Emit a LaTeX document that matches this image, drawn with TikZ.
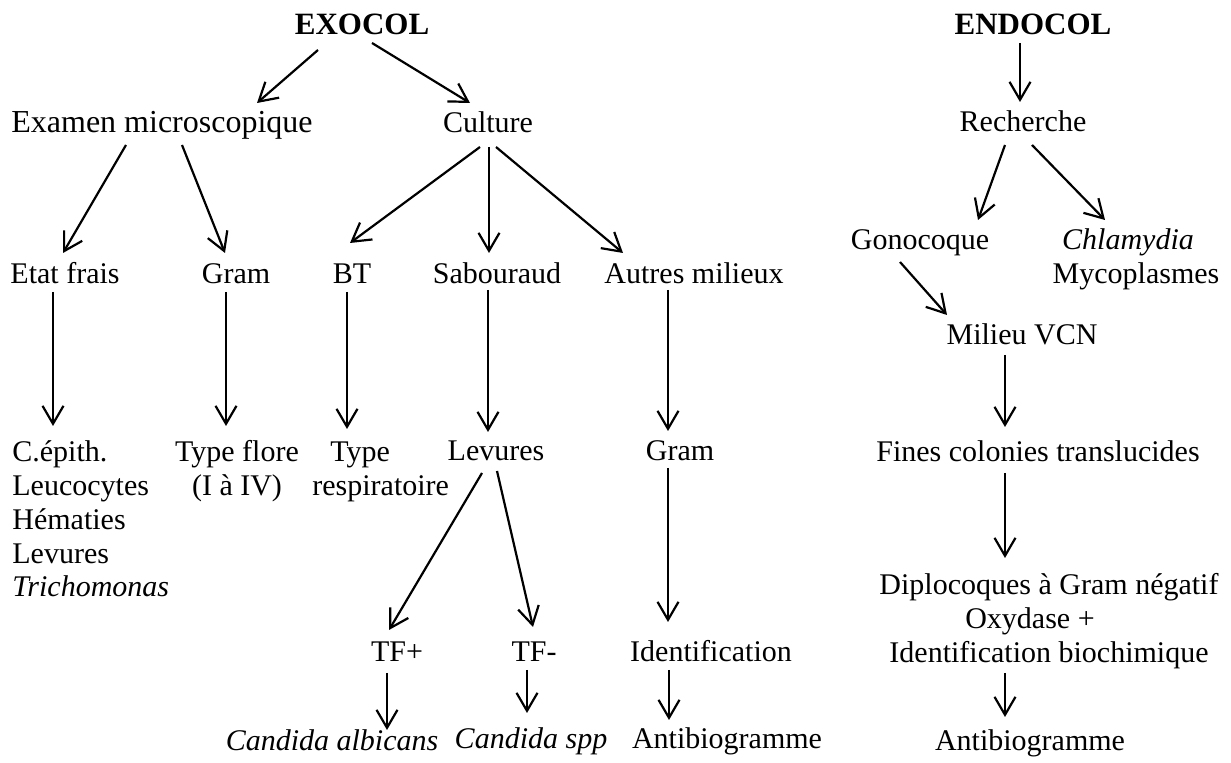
\documentclass[tikz,border=0pt]{standalone}
\usepackage{fontspec}
\setmainfont{Liberation Serif}
\usetikzlibrary{arrows.meta,calc}
% multi-line labels whose base is the first line's baseline
\newcommand{\stackc}[1]{\begin{tabular}[t]{@{}c@{}}#1\end{tabular}}
\newcommand{\stackl}[1]{\begin{tabular}[t]{@{}l@{}}#1\end{tabular}}

\begin{document}
\begin{tikzpicture}[x=0.5pt,y=-0.5pt,
  txt/.style={inner sep=0pt, anchor=base, font=\fontsize{15}{16.85}\selectfont},
  txtl/.style={txt, anchor=base west},
  head/.style={txt, font=\fontsize{15.5}{17}\selectfont\bfseries},
  arr/.style={-{Straight Barb[length=9pt,width=10.5pt]}, line width=1.1pt}]
\useasboundingbox (0,0) rectangle (1231,763);

% ---------- EXOCOL ----------
\node[head] (exo) at (362,35) {EXOCOL};
\node[txt, font=\fontsize{16}{18}\selectfont] (exam) at (162,133) {Examen microscopique};
\node[txt] (cult) at (488,133) {Culture};

\node[txt] (etat) at (65,284) {Etat frais};
\node[txt] (gram) at (236,284) {Gram};
\node[txt] (bt) at (352,284) {BT};
\node[txt] (sab) at (497,284) {Sabouraud};
\node[txt] (autres) at (694,284) {Autres milieux};

\node[txtl] (cep) at (12,462) {\stackl{C.épith.\\Leucocytes\\Hématies\\Levures\\\textit{Trichomonas}}};
\node[txt] (flore) at (237,462) {\stackc{Type flore\\(I à IV)}};
\node[txtl] (resp) at (312,462) {\stackl{\hspace*{9pt}Type\\respiratoire}};
\node[txt] (lev) at (496,461) {Levures};
\node[txt] (gram2) at (680,461) {Gram};

\node[txt] (tfp) at (397,662) {TF+};
\node[txt] (tfm) at (534,662) {TF-};
\node[txt] (ident) at (711,662) {Identification};

\node[txt] (calb) at (332,750) {\textit{Candida albicans}};
\node[txt] (cspp) at (531,748) {\textit{Candida spp}};
\node[txt] (anti1) at (727,748) {Antibiogramme};

\draw[arr] ([shift={(-44,15)}]exo.base) -- ([shift={(95,-30)}]exam.base);
\draw[arr] ([shift={(10,8)}]exo.base) -- ([shift={(-18,-30)}]cult.base);
\draw[arr] ([shift={(-36,12)}]exam.base) -- ([shift={(-2,-31)}]etat.base);
\draw[arr] ([shift={(20,12)}]exam.base) -- ([shift={(-11,-31)}]gram.base);
\draw[arr] ([shift={(-8,14)}]cult.base) -- ([shift={(-2,-41)}]bt.base);
\draw[arr] ([shift={(1,14)}]cult.base) -- ([shift={(-8,-31)}]sab.base);
\draw[arr] ([shift={(8,14)}]cult.base) -- ([shift={(-71,-31)}]autres.base);

\draw[arr] ([shift={(-12,8)}]etat.base) -- ([shift={(41,-36)}]cep.base west);
\draw[arr] ([shift={(-10,8)}]gram.base) -- ([shift={(-11,-36)}]flore.base);
\draw[arr] ([shift={(-5,8)}]bt.base) -- ([shift={(35,-33)}]resp.base west);
\draw[arr] ([shift={(-9,6)}]sab.base) -- ([shift={(-8,-29)}]lev.base);
\draw[arr] ([shift={(-26,6)}]autres.base) -- ([shift={(-12,-30)}]gram2.base);

\draw[arr] ([shift={(-14,12)}]lev.base) -- ([shift={(-8,-32)}]tfp.base);
\draw[arr] ([shift={(1,10)}]lev.base) -- ([shift={(-1,-35)}]tfm.base);
\draw[arr] ([shift={(-12,7)}]gram2.base) -- ([shift={(-43,-40)}]ident.base);

\draw[arr] ([shift={(-10,11)}]tfp.base) -- ([shift={(55,-20)}]calb.base);
\draw[arr] ([shift={(-7,8)}]tfm.base) -- ([shift={(-4,-35)}]cspp.base);
\draw[arr] ([shift={(-42,8)}]ident.base) -- ([shift={(-58,-28)}]anti1.base);

% ---------- ENDOCOL ----------
\node[head] (endo) at (1033,35) {ENDOCOL};
\node[txt] (rech) at (1023,132) {Recherche};
\node[txt] (gono) at (920,250) {Gonocoque};
\node[txt] (chla) at (1136,250) {\stackc{\textit{Chlamydia}\hspace*{8pt}\\Mycoplasmes}};
\node[txt] (milieu) at (1022,345) {Milieu VCN};
\node[txt] (fines) at (1038,462) {Fines colonies translucides};
\node[txt] (diplo) at (1049,595) {\stackc{Diplocoques à Gram négatif\\Oxydase +\hspace*{19pt}\\Identification biochimique}};
\node[txt] (anti2) at (1030,750) {Antibiogramme};

\draw[arr] ([shift={(-13,8)}]endo.base) -- ([shift={(-3,-30)}]rech.base);
\draw[arr] ([shift={(-18,13)}]rech.base) -- ([shift={(58,-30)}]gono.base);
\draw[arr] ([shift={(9,13)}]rech.base) -- ([shift={(-31,-30)}]chla.base);
\draw[arr] ([shift={(-20,12)}]gono.base) -- ([shift={(-75,-30)}]milieu.base);
\draw[arr] ([shift={(-17,10)}]milieu.base) -- ([shift={(-33,-35)}]fines.base);
\draw[arr] ([shift={(-33,11)}]fines.base) -- ([shift={(-44,-37)}]diplo.base);
\draw[arr] ([shift={(-44,78)}]diplo.base) -- ([shift={(-25,-33)}]anti2.base);
\end{tikzpicture}
\end{document}
